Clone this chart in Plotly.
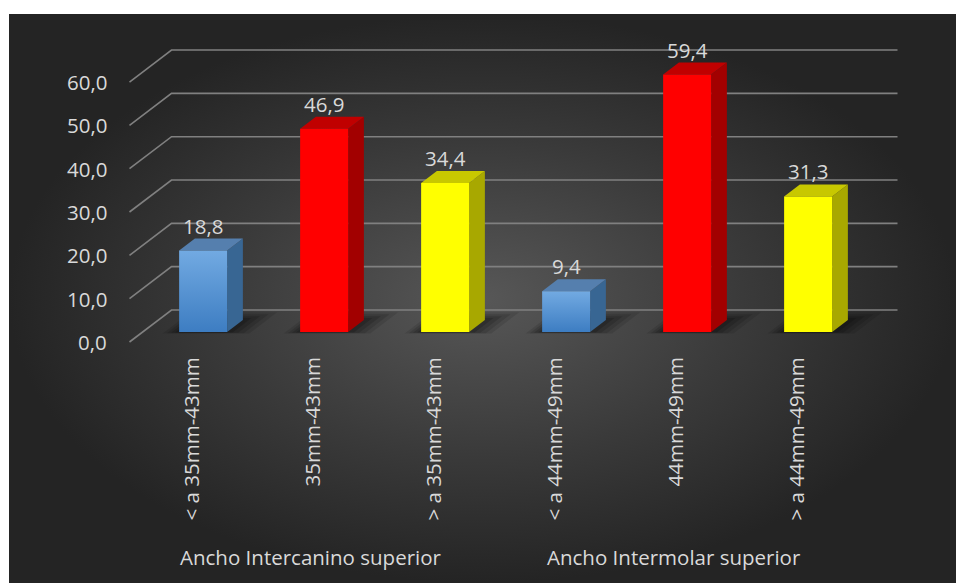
import plotly.graph_objects as go

# ---- data ---------------------------------------------------------------
categories = ["< a 35mm-43mm", "35mm-43mm", "> a 35mm-43mm",
              "< a 44mm-49mm", "44mm-49mm", "> a 44mm-49mm"]
groups = ["Ancho Intercanino superior", "Ancho Intermolar superior"]
group_centers = [1, 4]
values = [18.8, 46.9, 34.4, 9.4, 59.4, 31.3]
tick_values = [0, 10, 20, 30, 40, 50, 60]

# ---- styling -------------------------------------------------------------
palette = {
    "blue": {"front": ["#3d7dc2", "#72aae2"], "top": "#557fae", "side": "#386693"},
    "red": {"front": ["#ff0000", "#ff0000"], "top": "#c00000", "side": "#a20000"},
    "yellow": {"front": ["#ffff00", "#ffff00"], "top": "#c8c800", "side": "#a8a800"},
}
bar_colors = ["blue", "red", "yellow", "blue", "red", "yellow"]
TEXT = "#d9d9d9"
GRID = "#808080"
FONT = "Open Sans"
FS = 20.5

W, H = 956, 583
ML, MT = 9, 14
PX_CAT = 121.0          # pixels per category step
PX_UNIT = 4.333         # pixels per value unit
X0_PX, Y0_PX = 190.0, 342.0   # category 0 / value 0 on the front floor edge

# oblique depth: full floor depth shifts 42px right and 32px up
DEPTH_DX = 42.0 / PX_CAT
DEPTH_DV = 32.0 / PX_UNIT
Z_FRONT, Z_BACK = 10.0 / 32.0, 22.0 / 32.0
HALF_W = 24.0 / PX_CAT

x_range = [(ML - X0_PX) / PX_CAT, (W - X0_PX) / PX_CAT]
y_range = [(Y0_PX - H) / PX_UNIT, (Y0_PX - MT) / PX_UNIT]


def proj(c, v, z):
    """Project a point (category, value, depth) onto the flat axes."""
    return c + z * DEPTH_DX, v + z * DEPTH_DV


def poly(points, **kw):
    xs = [p[0] for p in points] + [points[0][0]]
    ys = [p[1] for p in points] + [points[0][1]]
    return go.Scatter(x=xs, y=ys, mode="lines", fill="toself",
                      line=dict(width=0), hoverinfo="skip", showlegend=False, **kw)


fig = go.Figure()

# background panel with a soft radial glow
fig.add_trace(go.Scatter(
    x=[x_range[0], x_range[1], x_range[1], x_range[0], x_range[0]],
    y=[y_range[0], y_range[0], y_range[1], y_range[1], y_range[0]],
    mode="lines", fill="toself", line=dict(width=0),
    fillgradient=dict(type="radial",
                      colorscale=[[0, "#575757"], [0.55, "#3a3a3a"], [1, "#242424"]]),
    hoverinfo="skip", showlegend=False))

# gridlines: front edge -> back wall -> across the back wall
left, right = -0.5, len(categories) - 0.5
for t in tick_values:
    a = proj(left, t, 0)
    b = proj(left, t, 1)
    c = proj(right, t, 1)
    fig.add_trace(go.Scatter(x=[a[0], b[0], c[0]], y=[a[1], b[1], c[1]],
                             mode="lines", line=dict(color=GRID, width=1.6),
                             hoverinfo="skip", showlegend=False))

# soft shadows under each bar
for i in range(len(values)):
    for grow, op in [(0.20, 0.10), (0.15, 0.12), (0.10, 0.14), (0.05, 0.16)]:
        gz = grow * 1.2
        pts = [proj(i - HALF_W - grow * 0.6, 0, Z_FRONT - gz * 0.2),
               proj(i + HALF_W + grow, 0, Z_FRONT - gz * 0.2),
               proj(i + HALF_W + grow, 0, Z_BACK + gz),
               proj(i - HALF_W - grow * 0.6, 0, Z_BACK + gz)]
        fig.add_trace(poly(pts, fillcolor=f"rgba(0,0,0,{op})"))

# 3D bars: front face, top face, right side face
for i, (v, key) in enumerate(zip(values, bar_colors)):
    col = palette[key]
    l, r = i - HALF_W, i + HALF_W
    front = [proj(l, 0, Z_FRONT), proj(r, 0, Z_FRONT),
             proj(r, v, Z_FRONT), proj(l, v, Z_FRONT)]
    top = [proj(l, v, Z_FRONT), proj(r, v, Z_FRONT),
           proj(r, v, Z_BACK), proj(l, v, Z_BACK)]
    side = [proj(r, 0, Z_FRONT), proj(r, 0, Z_BACK),
            proj(r, v, Z_BACK), proj(r, v, Z_FRONT)]
    fig.add_trace(poly(side, fillcolor=col["side"]))
    fig.add_trace(poly(top, fillcolor=col["top"]))
    lo, hi = col["front"]
    fig.add_trace(poly(front, fillcolor=lo,
                       fillgradient=dict(type="vertical",
                                         colorscale=[[0, lo], [1, hi]])))

annotations = []

# value labels above the bars
for i, v in enumerate(values):
    x, y = proj(i, v, Z_FRONT)
    annotations.append(dict(x=x, y=y, xref="x", yref="y", text=f"{v:.1f}".replace(".", ","),
                            showarrow=False, yanchor="bottom", yshift=9,
                            font=dict(family=FONT, size=FS, color=TEXT)))

# value axis labels at the front edge of the floor grid
for t in tick_values:
    x, y = proj(left, t, 0)
    annotations.append(dict(x=x, y=y, xref="x", yref="y", text=f"{t:.1f}".replace(".", ","),
                            showarrow=False, xanchor="right", xshift=-21,
                            font=dict(family=FONT, size=FS, color=TEXT)))

# rotated category labels
for i, name in enumerate(categories):
    x, y = proj(i, 0, 0)
    annotations.append(dict(x=x, y=y, xref="x", yref="y", text=name, textangle=-90,
                            showarrow=False, yanchor="top", yshift=-14,
                            font=dict(family=FONT, size=FS, color=TEXT)))

# group labels
for name, gc in zip(groups, group_centers):
    x, y = proj(gc, 0, 0)
    annotations.append(dict(x=x, y=y, xref="x", yref="y", text=name,
                            showarrow=False, yanchor="middle", yshift=-215,
                            font=dict(family=FONT, size=FS, color=TEXT)))

fig.update_layout(
    width=W, height=H,
    margin=dict(l=ML, t=MT, r=0, b=0),
    paper_bgcolor="white", plot_bgcolor="#2a2a2a",
    xaxis=dict(range=x_range, visible=False, fixedrange=True),
    yaxis=dict(range=y_range, visible=False, fixedrange=True),
    annotations=annotations,
    showlegend=False,
    hovermode=False,
)

fig.write_html("out.html", config={"displayModeBar": False})
